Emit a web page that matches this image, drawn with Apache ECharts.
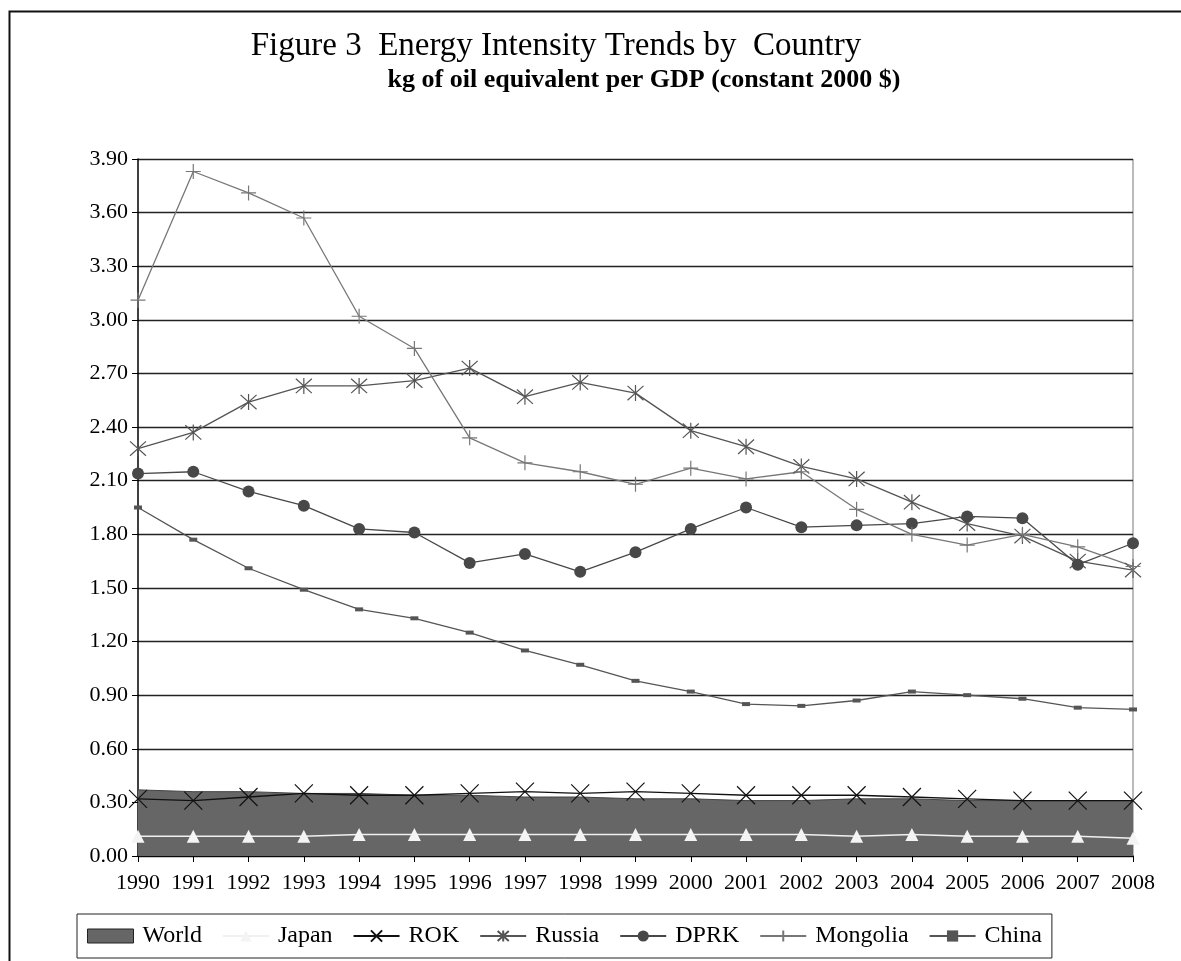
<!DOCTYPE html>
<html>
<head>
<meta charset="utf-8">
<script src="https://cdn.jsdelivr.net/npm/echarts@6/dist/echarts.min.js"></script>
<style>
  html, body { margin: 0; padding: 0; background: #fff; }
  #chart { width: 1181px; height: 961px; }
</style>
</head>
<body>
<div id="chart"></div>
<script>
const years = ['1990', '1991', '1992', '1993', '1994', '1995', '1996', '1997', '1998', '1999',
  '2000', '2001', '2002', '2003', '2004', '2005', '2006', '2007', '2008']

const world = [0.37, 0.36, 0.36, 0.35, 0.35, 0.34, 0.34, 0.33, 0.33, 0.32, 0.32, 0.31, 0.31, 0.32, 0.32, 0.31, 0.31, 0.31, 0.31]
const japan = [0.11, 0.11, 0.11, 0.11, 0.12, 0.12, 0.12, 0.12, 0.12, 0.12, 0.12, 0.12, 0.12, 0.11, 0.12, 0.11, 0.11, 0.11, 0.10]
const rok = [0.32, 0.31, 0.33, 0.35, 0.34, 0.34, 0.35, 0.36, 0.35, 0.36, 0.35, 0.34, 0.34, 0.34, 0.33, 0.32, 0.31, 0.31, 0.31]
const russia = [2.28, 2.37, 2.54, 2.63, 2.63, 2.66, 2.73, 2.57, 2.65, 2.59, 2.38, 2.29, 2.18, 2.11, 1.98, 1.86, 1.79, 1.65, 1.60]
const dprk = [2.14, 2.15, 2.04, 1.96, 1.83, 1.81, 1.64, 1.69, 1.59, 1.70, 1.83, 1.95, 1.84, 1.85, 1.86, 1.90, 1.89, 1.63, 1.75]
const mongolia = [3.11, 3.83, 3.71, 3.57, 3.02, 2.84, 2.34, 2.20, 2.15, 2.08, 2.17, 2.11, 2.15, 1.94, 1.80, 1.74, 1.80, 1.73, 1.62]
const china = [1.95, 1.77, 1.61, 1.49, 1.38, 1.33, 1.25, 1.15, 1.07, 0.98, 0.92, 0.85, 0.84, 0.87, 0.92, 0.90, 0.88, 0.83, 0.82]

const FONT = '"Liberation Serif", "DejaVu Serif", serif'

// open stroke-only markers like the spreadsheet ones
const SYM_X = 'path://M-10,-10L10,10M-10,10L10,-10'
const SYM_STAR = 'path://M0,-10L0,10M-9,-9L9,9M-9,9L9,-9'
const SYM_PLUS = 'path://M-10,0L10,0M0,-10L0,10'

const chart = echarts.init(document.getElementById('chart'))

const lineSeries = (name, data, color, symbol, size, extra) => Object.assign({
  name,
  type: 'line',
  data,
  symbol,
  symbolSize: size,
  showSymbol: true,
  lineStyle: { color, width: 1.3 },
  itemStyle: { color, borderColor: color, borderWidth: 1.2 },
  emphasis: { disabled: true },
  animation: false
}, extra || {})

const option = {
  backgroundColor: '#fff',
  textStyle: { fontFamily: FONT },
  title: [
    {
      text: 'Figure 3  Energy Intensity Trends by  Country',
      left: 551,
      textAlign: 'center',
      top: 25,
      textStyle: { fontFamily: FONT, fontSize: 33, fontWeight: 'normal', color: '#000' }
    },
    {
      text: 'kg of oil equivalent per GDP (constant 2000 $)',
      left: 639,
      textAlign: 'center',
      top: 62,
      textStyle: { fontFamily: FONT, fontSize: 26, fontWeight: 'bold', color: '#000' }
    }
  ],
  graphic: [
    {
      type: 'rect',
      shape: { x: 9.5, y: 11.5, width: 1200, height: 1000 },
      style: { fill: 'none', stroke: '#111', lineWidth: 2 },
      silent: true
    },
    {
      type: 'line',
      shape: { x1: 1133, y1: 159, x2: 1133, y2: 856 },
      style: { stroke: '#bbb', lineWidth: 2 },
      silent: true
    }
  ],
  legend: {
    left: 77,
    top: 914,
    width: 974,
    height: 46,
    padding: [10, 10, 10, 10],
    borderColor: '#222',
    borderWidth: 1,
    itemGap: 20,
    itemWidth: 46,
    itemHeight: 14,
    textStyle: { fontFamily: FONT, fontSize: 24, color: '#000', padding: [0, 0, 0, 4] },
    data: [
      { name: 'World', icon: 'rect', itemStyle: { color: '#666', borderColor: '#222', borderWidth: 1 } },
      { name: 'Japan' },
      { name: 'ROK' },
      { name: 'Russia' },
      { name: 'DPRK' },
      { name: 'Mongolia' },
      { name: 'China' }
    ]
  },
  grid: { left: 138, right: 48, top: 159, bottom: 105 },
  xAxis: {
    type: 'category',
    data: years,
    boundaryGap: false,
    axisLine: { lineStyle: { color: '#000', width: 1.5 } },
    axisTick: { show: true, length: 6, inside: false, lineStyle: { color: '#000' } },
    axisLabel: { fontFamily: FONT, fontSize: 22, color: '#000', margin: 16, interval: 0 },
    splitLine: { show: false }
  },
  yAxis: {
    type: 'value',
    min: 0,
    max: 3.9,
    interval: 0.3,
    axisLine: { show: true, lineStyle: { color: '#000', width: 1.5 } },
    axisTick: { show: true, length: 6, lineStyle: { color: '#000' } },
    axisLabel: {
      fontFamily: FONT, fontSize: 22, color: '#000', margin: 10,
      formatter: v => v.toFixed(2)
    },
    splitLine: { show: true, lineStyle: { color: '#222', width: 1.3 } }
  },
  series: [
    {
      name: 'World',
      type: 'line',
      data: world,
      symbol: 'none',
      lineStyle: { color: '#444', width: 1 },
      itemStyle: { color: '#666' },
      areaStyle: { color: '#666', opacity: 1 },
      emphasis: { disabled: true },
      animation: false,
      z: 1
    },
    lineSeries('Japan', japan, '#fafafa', 'triangle', 13, {
      itemStyle: { color: '#f4f4f4', borderColor: '#f4f4f4', borderWidth: 0 },
      lineStyle: { color: '#f0f0f0', width: 1.5 }
    }),
    lineSeries('ROK', rok, '#111', SYM_X, 18),
    lineSeries('Russia', russia, '#555', SYM_STAR, 16),
    lineSeries('DPRK', dprk, '#484848', 'circle', 12, {
      itemStyle: { color: '#484848', borderColor: '#484848', borderWidth: 0 }
    }),
    lineSeries('Mongolia', mongolia, '#777', SYM_PLUS, 15),
    lineSeries('China', china, '#555', 'rect', [8, 4], {
      itemStyle: { color: '#555', borderColor: '#555', borderWidth: 0 }
    })
  ]
}

chart.setOption(option)
</script>
</body>
</html>
